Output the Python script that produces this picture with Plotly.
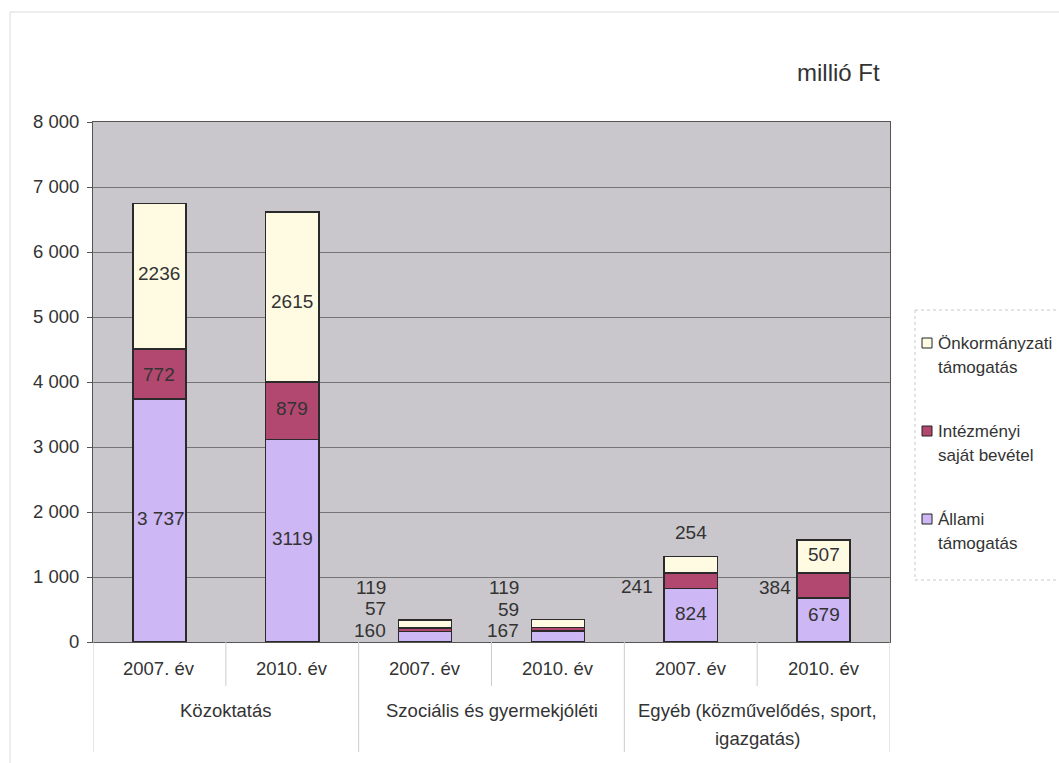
import plotly.graph_objects as go

# Categories: years within each area
years = ["2007. év", "2010. év", "2007. év", "2010. év", "2007. év", "2010. év"]
groups = ["Közoktatás", "Szociális és gyermekjóléti", "Egyéb (közművelődés, sport,\nigazgatás)"]

# Series values (millió Ft)
allami = [3737, 3119, 160, 167, 824, 679]
intezmenyi = [772, 879, 57, 59, 241, 384]
onkormanyzati = [2236, 2615, 119, 119, 254, 507]

# Printed data labels
allami_lbl = ["3 737", "3119", "160", "167", "824", "679"]
intezmenyi_lbl = ["772", "879", "57", "59", "241", "384"]
onkormanyzati_lbl = ["2236", "2615", "119", "119", "254", "507"]

series_names = ["Állami\ntámogatás", "Intézményi\nsaját bevétel", "Önkormányzati\ntámogatás"]

# Y axis ticks
y_ticks = [0, 1000, 2000, 3000, 4000, 5000, 6000, 7000, 8000]
y_tick_text = ["0", "1 000", "2 000", "3 000", "4 000", "5 000", "6 000", "7 000", "8 000"]

unit_text = "millió Ft"

# ---- styling / placement ----
FONT = "Liberation Sans, Arial, sans-serif"
TXT = "#333333"
colors = ["#cdb7f4", "#b2486f", "#fffbe3"]
W, H = 1059, 763
L, R, T, B = 93, 169, 122, 121
PW, PH = W - L - R, H - T - B
BAR_W = 0.4

# label placement per series per bar: (anchor, dx px, dy px) relative to segment middle
place = [
    [("c", 2, 2), ("c", 0, 2), ("l", -37, 6), ("l", -37, 6), ("c", 0, 2), ("c", 0, 5)],
    [("c", 0, 0), ("c", 0, 2), ("l", -37, 21), ("l", -37, 20), ("l", -36, -6), ("l", -31, -2)],
    [("c", 0, 3), ("c", 0, -4), ("l", -37, 37), ("l", -37, 36), ("c", 0, 32), ("c", 0, 2)],
]

xs = list(range(len(years)))
values = [allami, intezmenyi, onkormanyzati]
labels = [allami_lbl, intezmenyi_lbl, onkormanyzati_lbl]

fig = go.Figure()
for vals, col, name in zip(values, colors, series_names):
    fig.add_trace(go.Bar(
        x=xs, y=vals, width=BAR_W, name=name.replace("\n", " "),
        marker=dict(color=col, line=dict(color="#2a2a2a", width=1.5)),
        showlegend=False, hoverinfo="skip",
    ))

annotations = []
# data labels
base = [0] * len(xs)
for s, (vals, lbls) in enumerate(zip(values, labels)):
    for i, (v, t) in enumerate(zip(vals, lbls)):
        mode, dx, dy = place[s][i]
        annotations.append(dict(
            x=xs[i], y=base[i] + v / 2, xref="x", yref="y", text=t, showarrow=False,
            xanchor="center" if mode == "c" else "right", yanchor="middle",
            xshift=dx, yshift=dy, font=dict(family=FONT, size=19, color=TXT),
        ))
        base[i] += v


def py(px):
    return (T + PH - px) / PH


def pxx(px):
    return (px - L) / PW


# category table under the axis
for i, yl in enumerate(years):
    annotations.append(dict(x=xs[i], y=py(668), xref="x", yref="paper", text=yl, showarrow=False,
                            xanchor="center", yanchor="middle",
                            font=dict(family=FONT, size=18.5, color=TXT)))
for g, gl in enumerate(groups):
    for k, line in enumerate(gl.split("\n")):
        annotations.append(dict(x=2 * g + 0.5, y=py(710 + 28 * k), xref="x", yref="paper", text=line,
                                showarrow=False, xanchor="center", yanchor="middle",
                                font=dict(family=FONT, size=18.5, color=TXT)))

shapes = []
for k in range(len(xs) + 1):
    bottom = 752 if k % 2 == 0 else 686
    shapes.append(dict(type="line", xref="x", yref="paper", x0=k - 0.5, x1=k - 0.5,
                       y0=py(642), y1=py(bottom), line=dict(color="#cccccc", width=1)))

# unit caption
annotations.append(dict(x=pxx(882), y=py(73), xref="paper", yref="paper", text=unit_text,
                        showarrow=False, xanchor="right", yanchor="middle",
                        font=dict(family=FONT, size=24, color=TXT)))

# legend box (runs off the right edge), swatches and text
box_line = dict(color="#c8c8c8", width=1, dash="dot")
for (x0, y0, x1, y1) in [(915, 310, 915, 580), (915, 310, 1100, 310), (915, 580, 1100, 580)]:
    shapes.append(dict(type="line", xref="paper", yref="paper", x0=pxx(x0), x1=pxx(x1),
                       y0=py(y0), y1=py(y1), line=box_line))
legend_y = [519, 431, 343]
for s, (name, col) in enumerate(zip(series_names, colors)):
    yc = legend_y[s]
    shapes.append(dict(type="rect", xref="paper", yref="paper", x0=pxx(922), x1=pxx(932),
                       y0=py(yc + 5), y1=py(yc - 5), fillcolor=col,
                       line=dict(color="#222222", width=1)))
    for k, line in enumerate(name.split("\n")):
        annotations.append(dict(x=pxx(936), y=py(yc + 24 * k), xref="paper", yref="paper", text=line,
                                showarrow=False, xanchor="left", yanchor="middle",
                                font=dict(family=FONT, size=17, color=TXT)))

# outer chart frame (top and left edges)
frame_line = dict(color="#dcdcdc", width=1)
for (x0, y0, x1, y1) in [(10, 12, 10, 800), (10, 12, 1100, 12)]:
    shapes.append(dict(type="line", xref="paper", yref="paper", x0=pxx(x0), x1=pxx(x1),
                       y0=py(y0), y1=py(y1), line=frame_line, layer="below"))

fig.update_layout(
    barmode="stack",
    width=W, height=H,
    margin=dict(l=L, r=R, t=T, b=B, autoexpand=False),
    paper_bgcolor="white",
    plot_bgcolor="#c9c7cb",
    annotations=annotations,
    shapes=shapes,
    xaxis=dict(range=[-0.5, len(xs) - 0.5], showticklabels=False, ticks="", showgrid=False,
               zeroline=False, showline=True, linecolor="#555555", linewidth=1, mirror=True,
               fixedrange=True),
    yaxis=dict(range=[0, 8000], tickvals=y_ticks, ticktext=y_tick_text, ticks="outside",
               ticklen=5, tickcolor="#555555", showgrid=True, gridcolor="#757575", gridwidth=1,
               zeroline=False, showline=True, linecolor="#555555", linewidth=1, mirror=True,
               tickfont=dict(family=FONT, size=18.5, color=TXT), ticklabelstandoff=4,
               fixedrange=True),
)

fig.write_html("out.html")
